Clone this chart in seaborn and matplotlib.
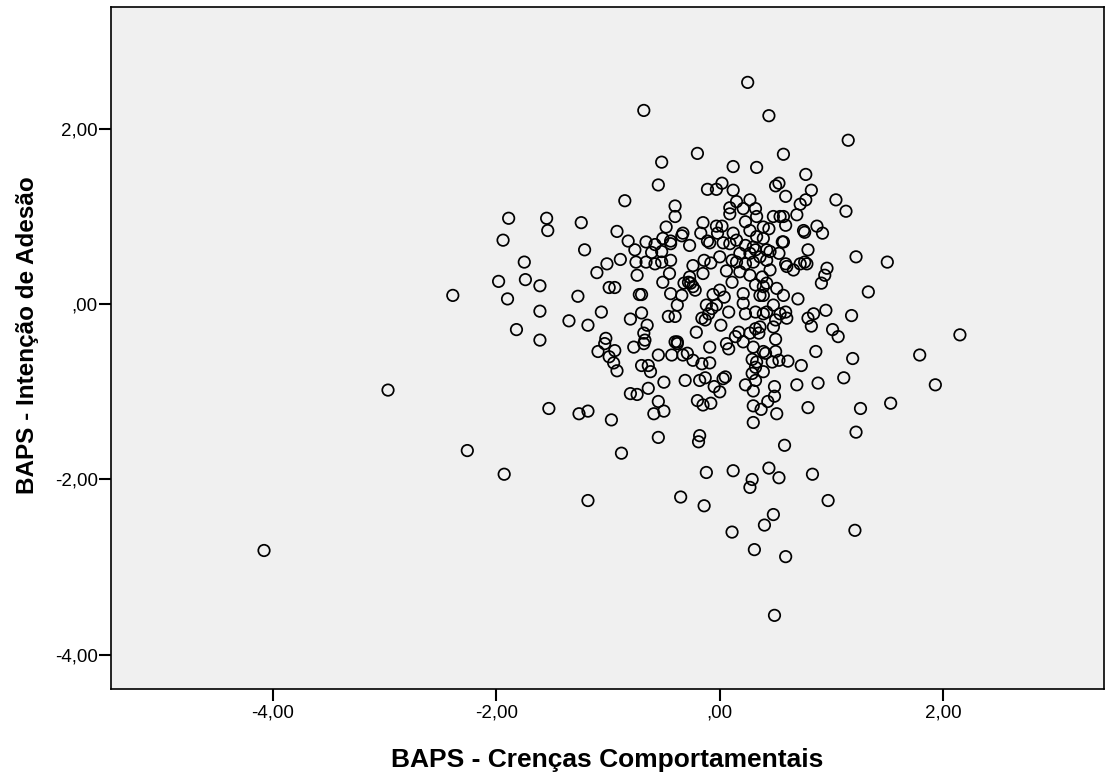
import matplotlib
matplotlib.use("Agg")
import matplotlib.pyplot as plt
import seaborn as sns
import pandas as pd

# BAPS - Crenças Comportamentais (x) and BAPS - Intenção de Adesão (y)
crencas = [
    -0.68, -0.20, -0.52, -0.55, 0.02, -0.11, -0.03, -0.85, -0.40, -0.40,
    -1.24, -0.92, -0.48, -0.15, -0.17, -0.03, 0.02, -0.02, -0.33, -0.34,
    -0.82, -0.66, -0.51, -0.44, -0.44, -0.27, -0.11, -0.09, 0.03, -1.21,
    -0.76, -0.58, -0.61, -0.52, -0.89, -1.01, -0.75, -0.66, -0.58, -0.52,
    -0.44, -0.24, -0.14, -0.08, 0.00, -0.15, -1.10, -0.74, -0.45, 0.06,
    -0.99, -0.94, -0.51, -0.32, -0.28, -0.26, -0.24, -0.22, -0.27, -1.27,
    -0.72, -0.70, -0.44, -0.34, -0.06, 0.00, 0.04,
    0.44, 1.15, 0.57, 0.33, 0.12, 0.77, 0.50, 0.53, 0.82, 0.59,
    0.12, 0.77, 0.72, 1.04, 1.13, 0.27, 0.15, 0.09, 0.21, 0.32,
    0.33, 0.69, 0.48, 0.54, 0.57, 0.09, 0.23, 0.39, 0.44, 0.59,
    0.27, 0.12, 0.75, 0.76, 0.87, 0.92, 0.15, 0.33, 0.39, 0.56,
    0.57, 0.09, 0.23, 0.30, 0.32, 0.42, 0.45, 0.79, 1.22, 1.50,
    0.18, 0.27, 0.36, 0.53, 0.11, 0.15, 0.23, 0.30, 0.42, 0.59,
    0.60, 0.72, 0.76, 0.78, 0.66, 0.96, 0.94, 0.91, 0.45, 0.27,
    0.38, 0.18, 0.11, 0.32, 0.39, 0.42, 0.51, 0.21, 0.36, 0.39,
    0.57, 0.70, 1.33,
    -1.06, -1.35, -1.18, -0.80, -0.70, -0.65, -0.46, -0.40, -0.38, -0.12,
    -0.07, -0.03, -0.16, -0.13, -0.10, 0.01, 0.08, -1.02, -1.03, -1.09,
    -0.94, -0.99, -0.95, -0.92, -0.68, -0.67, -0.68, -0.77, -0.40, -0.38,
    -0.38, -0.21, -0.09, 0.06, 0.08, -0.55, -0.43, -0.33, -0.29, -0.24,
    -0.16, -0.09, -0.70, -0.64, -0.62, -0.50, -0.31, -0.18, -0.13, 0.03,
    0.05, -0.05, 0.00, -0.80, -0.74, -0.64, -0.55, -0.59, -0.50, -0.20,
    -0.15, -0.08, -1.26, -1.18, -0.97, -0.55, -0.18, -0.19, -0.88, -0.12,
    0.21, 0.23, 0.32, 0.39, 0.42, 0.48, 0.54, 0.59, 0.60, 0.79,
    0.84, 0.82, 0.95, 1.18, 1.01, 1.06, 0.17, 0.14, 0.21, 0.27,
    0.32, 0.35, 0.36, 0.48, 0.50, 0.50, 0.30, 0.39, 0.41, 0.50,
    0.86, 1.19, 0.29, 0.33, 0.32, 0.39, 0.47, 0.53, 0.61, 0.73,
    0.29, 0.32, 0.23, 0.30, 0.49, 0.49, 0.43, 0.69, 0.88, 1.11,
    1.53, 0.79, 1.26, 0.30, 0.37, 0.51, 0.30, 1.22, 0.58, 0.12,
    0.44, 0.29, 0.53, 0.83,
    -1.18, -0.35, -0.14, 0.27, 0.97, 0.48, 0.40, 0.11, 1.21, 0.31,
    0.59, 0.49,
    -1.89, -1.55, -1.54, -1.94, -1.75, -1.98, -1.74, -1.61, -2.39, -1.90,
    -1.61, -1.82, -1.61, -2.97, -1.53, -2.26, -1.93,
    2.15, 1.79, 1.93, -4.08, 0.25,
]

intencao = [
    2.21, 1.72, 1.62, 1.36, 1.38, 1.31, 1.31, 1.18, 1.12, 1.00,
    0.93, 0.83, 0.88, 0.93, 0.81, 0.89, 0.89, 0.81, 0.81, 0.78,
    0.72, 0.71, 0.75, 0.72, 0.69, 0.67, 0.72, 0.70, 0.70, 0.62,
    0.62, 0.68, 0.59, 0.60, 0.51, 0.46, 0.48, 0.48, 0.46, 0.48,
    0.50, 0.44, 0.50, 0.47, 0.54, 0.35, 0.36, 0.33, 0.35, 0.38,
    0.19, 0.19, 0.25, 0.24, 0.25, 0.24, 0.20, 0.16, 0.31, 0.09,
    0.11, 0.11, 0.12, 0.10, 0.11, 0.16, 0.08,
    2.15, 1.87, 1.71, 1.56, 1.57, 1.48, 1.35, 1.38, 1.30, 1.23,
    1.30, 1.19, 1.14, 1.19, 1.06, 1.19, 1.17, 1.10, 1.09, 1.09,
    1.00, 1.02, 1.00, 1.00, 1.00, 1.03, 0.94, 0.88, 0.86, 0.90,
    0.84, 0.81, 0.84, 0.82, 0.89, 0.81, 0.73, 0.77, 0.75, 0.71,
    0.71, 0.69, 0.67, 0.65, 0.62, 0.62, 0.60, 0.62, 0.54, 0.48,
    0.58, 0.58, 0.54, 0.58, 0.50, 0.48, 0.46, 0.48, 0.50, 0.46,
    0.43, 0.46, 0.48, 0.46, 0.39, 0.41, 0.33, 0.24, 0.39, 0.33,
    0.31, 0.37, 0.25, 0.22, 0.20, 0.24, 0.18, 0.12, 0.10, 0.10,
    0.10, 0.06, 0.14,
    -0.09, -0.19, -0.24, -0.17, -0.10, -0.24, -0.14, -0.14, -0.01, -0.01,
    -0.05, -0.01, -0.16, -0.18, -0.11, -0.24, -0.09, -0.39, -0.45, -0.54,
    -0.53, -0.60, -0.67, -0.76, -0.33, -0.41, -0.45, -0.49, -0.43, -0.43,
    -0.45, -0.32, -0.49, -0.45, -0.51, -0.58, -0.58, -0.58, -0.56, -0.64,
    -0.68, -0.67, -0.70, -0.70, -0.77, -0.89, -0.87, -0.87, -0.84, -0.85,
    -0.83, -0.94, -1.00, -1.02, -1.03, -0.96, -1.11, -1.25, -1.22, -1.10,
    -1.15, -1.13, -1.25, -1.22, -1.32, -1.52, -1.50, -1.57, -1.70, -1.92,
    0.01, -0.11, -0.09, -0.11, -0.09, -0.01, -0.11, -0.09, -0.16, -0.16,
    -0.11, -0.25, -0.07, -0.13, -0.29, -0.37, -0.32, -0.37, -0.43, -0.33,
    -0.28, -0.33, -0.26, -0.26, -0.18, -0.40, -0.49, -0.54, -0.56, -0.54,
    -0.54, -0.62, -0.63, -0.66, -0.72, -0.77, -0.66, -0.64, -0.65, -0.70,
    -0.79, -0.87, -0.92, -0.99, -0.94, -1.05, -1.11, -0.92, -0.90, -0.84,
    -1.13, -1.18, -1.19, -1.16, -1.20, -1.25, -1.35, -1.46, -1.61, -1.90,
    -1.87, -2.00, -1.98, -1.94,
    -2.24, -2.20, -2.30, -2.09, -2.24, -2.40, -2.52, -2.60, -2.58, -2.80,
    -2.88, -3.55,
    0.98, 0.98, 0.84, 0.73, 0.48, 0.26, 0.28, 0.21, 0.10, 0.06,
    -0.08, -0.29, -0.41, -0.98, -1.19, -1.67, -1.94,
    -0.35, -0.58, -0.92, -2.81, 2.53,
]

x_ticks = [-4, -2, 0, 2]
x_tick_labels = ["-4,00", "-2,00", ",00", "2,00"]
y_ticks = [-4, -2, 0, 2]
y_tick_labels = ["-4,00", "-2,00", ",00", "2,00"]

x_label = "BAPS - Crenças Comportamentais"
y_label = "BAPS - Intenção de Adesão"

df = pd.DataFrame({"x": crencas, "y": intencao})

sns.set_style("ticks")
plt.rcParams["font.family"] = ["Liberation Sans", "DejaVu Sans"]

W, H = 1107, 776
fig = plt.figure(figsize=(W / 100, H / 100), dpi=100)
fig.patch.set_facecolor("white")
ax = fig.add_axes([111 / W, 1 - 689 / H, (1104 - 111) / W, (689 - 7) / H])
ax.set_facecolor("#f0f0f0")

sns.scatterplot(data=df, x="x", y="y", ax=ax, marker="o", s=68,
                color="black", linewidth=1.25, legend=False, zorder=3)
for coll in ax.collections:
    coll.set_facecolor("none")
    coll.set_edgecolor("black")
    coll.set_linewidth(1.25)

ax.set_xlim(-5.45, 3.44)
ax.set_ylim(-4.39, 3.39)

ax.set_xticks(x_ticks)
ax.set_xticklabels(x_tick_labels)
ax.set_yticks(y_ticks)
ax.set_yticklabels(y_tick_labels)
ax.tick_params(axis="both", direction="out", length=8.5, width=1.5,
               color="black", labelsize=13.5, labelcolor="black")
ax.tick_params(axis="x", pad=3)
ax.tick_params(axis="y", pad=1)

for sp in ax.spines.values():
    sp.set_visible(True)
    sp.set_color("black")
    sp.set_linewidth(1.2)

ax.set_xlabel(x_label, fontsize=19, fontweight="bold", va="center", color="black")
ax.set_ylabel(y_label, fontsize=17.5, fontweight="bold", va="center", color="black")
ax.xaxis.set_label_coords(0.5, (689 - 760) / (689 - 7))
ax.yaxis.set_label_coords((28 - 111) / (1104 - 111), (689 - 335.5) / (689 - 7))

fig.savefig("out.png", dpi=100)
